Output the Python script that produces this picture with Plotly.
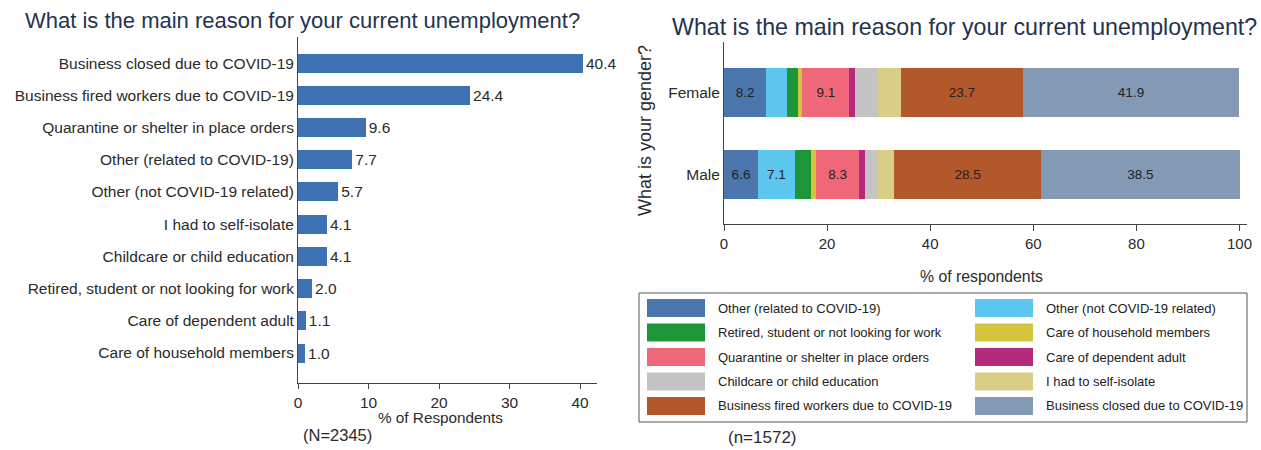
import plotly.graph_objects as go

# left chart: all respondents
reasons = [
    "Business closed due to COVID-19",
    "Business fired workers due to COVID-19",
    "Quarantine or shelter in place orders",
    "Other (related to COVID-19)",
    "Other (not COVID-19 related)",
    "I had to self-isolate",
    "Childcare or child education",
    "Retired, student or not looking for work",
    "Care of dependent adult",
    "Care of household members",
]
reason_pct = [40.4, 24.4, 9.6, 7.7, 5.7, 4.1, 4.1, 2.0, 1.1, 1.0]

# right chart: by gender (stack order, left to right)
stack_reasons = [
    "Other (related to COVID-19)",
    "Other (not COVID-19 related)",
    "Retired, student or not looking for work",
    "Care of household members",
    "Quarantine or shelter in place orders",
    "Care of dependent adult",
    "Childcare or child education",
    "I had to self-isolate",
    "Business fired workers due to COVID-19",
    "Business closed due to COVID-19",
]
genders = ["Male", "Female"]
male_pct = [6.6, 7.1, 3.1, 1.1, 8.3, 1.2, 2.5, 3.1, 28.5, 38.5]
female_pct = [8.2, 4.1, 2.1, 0.8, 9.1, 1.1, 4.5, 4.4, 23.7, 41.9]

left_ticks = [0, 10, 20, 30, 40]
right_ticks = [0, 20, 40, 60, 80, 100]

stack_colors = [
    "#4a76ad", "#5cc6ee", "#1f9539", "#d3c53d", "#f0677a",
    "#b42a7c", "#c4c4c4", "#d9ce86", "#b2582b", "#8499b3",
]
BAR_BLUE = "#3e72b3"
FONT = "Liberation Sans, Arial, sans-serif"
TXT = "#2b2b2b"

W, H = 1261, 450
L, R, T, B = 298, 14, 33, 67
PW, PH = W - L - R, H - T - B


def px(x):
    # pixel -> paper x
    return (x - L) / PW


def py(y):
    # pixel -> paper y
    return (H - B - y) / PH


fig = go.Figure()

fig.add_trace(go.Bar(
    x=reason_pct, y=reasons, orientation="h",
    marker=dict(color=BAR_BLUE, line=dict(width=0)),
    width=0.59,
    text=[f"{v:.1f}" for v in reason_pct],
    textposition="outside", cliponaxis=False,
    textfont=dict(size=15.5, color=TXT, family=FONT),
    xaxis="x", yaxis="y", showlegend=False, hoverinfo="x+y",
))

for name, color, m, f in zip(stack_reasons, stack_colors, male_pct, female_pct):
    vals = [m, f]
    fig.add_trace(go.Bar(
        x=vals, y=genders, orientation="h", name=name,
        marker=dict(color=color, line=dict(width=0)),
        width=0.6,
        text=[f"{v:.1f}" if v >= 5 else "" for v in vals],
        textposition="inside", insidetextanchor="middle", textangle=0,
        textfont=dict(size=13.5, color="#222222", family=FONT),
        xaxis="x2", yaxis="y2", showlegend=False,
    ))

axis_line = dict(showline=True, linecolor="#444444", linewidth=1,
                 showgrid=False, zeroline=False)

fig.update_layout(
    width=W, height=H,
    margin=dict(l=L, r=R, t=T, b=B, autoexpand=False),
    paper_bgcolor="white", plot_bgcolor="white",
    barmode="stack",
    font=dict(family=FONT, size=15, color=TXT),
    xaxis=dict(domain=[0, px(597)], range=[0, 42.4], tickvals=left_ticks,
               ticks="outside", ticklen=5, tickcolor="#444444",
               tickfont=dict(size=15.5), **axis_line),
    yaxis=dict(domain=[0, py(37)], type="category", categoryarray=reasons,
               range=[9.93, -0.81], ticks="", tickfont=dict(size=15.5),
               **axis_line),
    xaxis2=dict(domain=[px(724), 1], range=[0, 101.45], tickvals=right_ticks,
                anchor="y2", ticks="outside", ticklen=6, tickcolor="#444444",
                tickfont=dict(size=15), **axis_line),
    yaxis2=dict(domain=[py(224), py(42)], anchor="x2", type="category",
                categoryarray=genders, range=[-0.604, 1.616], ticks="",
                tickfont=dict(size=15.5), **axis_line),
)

title = "What is the main reason for your current unemployment?"
notes = [
    dict(text=title, x=px(23), y=py(20), xanchor="left", size=22, color="#233350"),
    dict(text=title, x=px(670), y=py(27), xanchor="left", size=23.2, color="#233350"),
    dict(text="% of Respondents", x=px(440), y=py(417), xanchor="center", size=15.3, color=TXT),
    dict(text="(N=2345)", x=px(337), y=py(435), xanchor="center", size=16.5, color=TXT),
    dict(text="% of respondents", x=px(981), y=py(276), xanchor="center", size=15.8, color=TXT),
    dict(text="(n=1572)", x=px(762), y=py(438), xanchor="center", size=17, color=TXT),
]
for n in notes:
    fig.add_annotation(text=n["text"], x=n["x"], y=n["y"], xref="paper", yref="paper",
                       xanchor=n["xanchor"], yanchor="middle", showarrow=False,
                       font=dict(size=n["size"], color=n["color"], family=FONT))

fig.add_annotation(text="What is your gender?", x=px(645), y=py(131), xref="paper",
                   yref="paper", xanchor="center", yanchor="middle", textangle=-90,
                   showarrow=False, font=dict(size=18, color=TXT, family=FONT))

# legend drawn as a two-column key below the gender chart
fig.add_shape(type="rect", xref="paper", yref="paper",
              x0=px(639), x1=px(1247), y0=py(422), y1=py(293),
              line=dict(color="#555555", width=1), fillcolor="rgba(0,0,0,0)")
col_x = [647, 975]
for i, (name, color) in enumerate(zip(stack_reasons, stack_colors)):
    sx = col_x[i % 2]
    cy = 308 + (i // 2) * 24.5
    fig.add_shape(type="rect", xref="paper", yref="paper",
                  x0=px(sx), x1=px(sx + 58), y0=py(cy + 9), y1=py(cy - 9),
                  line=dict(width=0), fillcolor=color)
    fig.add_annotation(text=name, x=px(sx + 69), y=py(cy), xref="paper", yref="paper",
                       xanchor="left", yanchor="middle", showarrow=False,
                       font=dict(size=13, color="#222222", family=FONT))

# the page body has a default margin; drop it so the figure sits at 0,0
fig.write_html("out.html", config={"displayModeBar": False},
               post_script="document.body.style.margin='0';")
